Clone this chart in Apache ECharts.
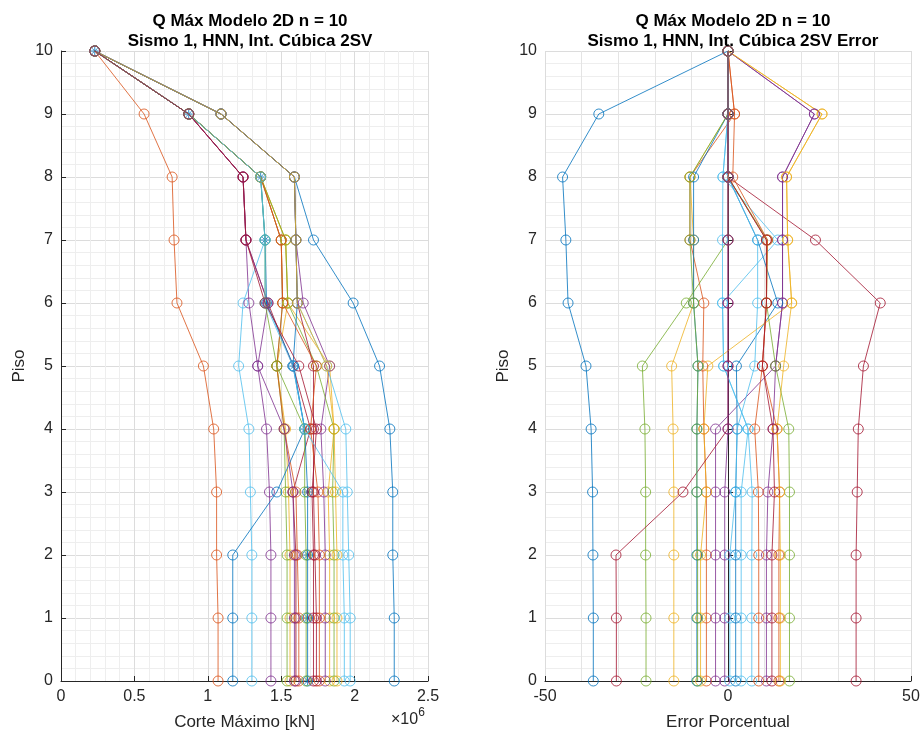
<!DOCTYPE html>
<html>
<head>
<meta charset="utf-8">
<script src="https://cdn.jsdelivr.net/npm/echarts@6/dist/echarts.min.js"></script>
<style>html,body{margin:0;padding:0;background:#fff;}#c{width:923px;height:737px;}</style>
</head>
<body>
<div id="c"></div>
<script>
// Floors (y axis)
const pisos = [0,1,2,3,4,5,6,7,8,9,10];
const yTicks = [0,1,2,3,4,5,6,7,8,9,10];
const xTicksLeft = [0,0.5,1,1.5,2,2.5];      // x 10^6 kN
const xTicksRight = [-50,0,50];
const colores = ['#0072BD','#D95319','#EDB120','#7E2F8E','#77AC30','#4DBEEE','#A2142F'];

// Left panel: Corte Máximo (x 10^6 kN), values per floor 0..10
const corte01 = [2.27,2.27,2.26,2.26,2.24,2.17,1.99,1.72,1.59,1.09,0.23];
const corte02 = [1.07,1.07,1.06,1.06,1.04,0.97,0.79,0.77,0.757,0.566,0.23];
const corte03 = [1.56,1.56,1.56,1.55,1.53,1.47,1.545,1.53,1.36,0.87,0.23];
const corte04 = [1.43,1.43,1.43,1.42,1.40,1.34,1.28,1.26,1.24,0.87,0.23];
const corte05 = [1.54,1.54,1.54,1.53,1.52,1.47,1.51,1.50,1.36,0.87,0.23];
const corte06 = [1.30,1.30,1.30,1.29,1.28,1.21,1.24,1.39,1.36,0.87,0.23];
const corte07 = [1.60,1.60,1.60,1.58,1.70,1.58,1.41,1.26,1.24,0.87,0.23];
const corteRef = [1.68,1.68,1.68,1.68,1.66,1.585,1.40,1.39,1.36,0.87,0.23];
const corte09 = [1.62,1.62,1.61,1.60,1.52,1.47,1.51,1.50,1.36,0.87,0.23];
const corte10 = [1.83,1.83,1.83,1.82,1.86,1.83,1.545,1.53,1.36,0.87,0.23];
const corte11 = [1.80,1.80,1.80,1.79,1.77,1.83,1.65,1.60,1.59,1.09,0.23];
const corte12 = [1.86,1.86,1.86,1.85,1.86,1.74,1.545,1.53,1.36,0.87,0.23];
const corte13 = [1.97,1.97,1.96,1.95,1.94,1.81,1.61,1.60,1.59,1.09,0.23];
const corte14 = [1.74,1.74,1.73,1.72,1.72,1.72,1.61,1.60,1.59,1.09,0.23];
const corte15 = [1.17,1.17,1.17,1.47,1.66,1.58,1.61,1.60,1.59,1.09,0.23];
const corte16 = [1.76,1.76,1.76,1.75,1.70,1.74,1.51,1.50,1.36,0.87,0.23];
const corte17 = [1.88,1.88,1.88,1.87,1.86,1.81,1.61,1.60,1.59,1.09,0.23];
const corte18 = [1.59,1.59,1.59,1.58,1.52,1.34,1.41,1.26,1.24,0.87,0.23];
const corte19 = [1.67,1.67,1.67,1.66,1.66,1.47,1.39,1.39,1.36,0.87,0.23];
const corte20 = [1.93,1.93,1.92,1.92,1.66,1.58,1.39,1.39,1.36,0.87,0.23];
const corte21 = [1.72,1.72,1.72,1.71,1.74,1.62,1.39,1.26,1.24,0.87,0.23];
const corteSeries = [corte01,corte02,corte03,corte04,corte05,corte06,corte07,corteRef,corte09,corte10,
  corte11,corte12,corte13,corte14,corte15,corte16,corte17,corte18,corte19,corte20,corte21];

// Right panel: Error Porcentual (%), values per floor 0..10
const error01 = [-36.8,-36.8,-36.9,-37.0,-37.4,-38.8,-43.7,-44.3,-45.2,-35.3,0];
const error02 = [-5.9,-5.9,-5.9,-5.9,-6.6,-6.9,-6.6,-10.4,-10.4,1.8,0];
const error03 = [-14.8,-14.8,-14.8,-14.8,-15.0,-15.4,-9.4,-9.4,-10.4,0,0];
const error04 = [-3.4,-3.4,-3.4,-3.4,-3.4,13.0,14.9,14.9,14.9,23.6,0];
const error05 = [-22.4,-22.4,-22.5,-22.5,-22.7,-23.4,-11.4,0,0,0,0];
const error06 = [3.6,3.6,3.6,3.6,5.5,-1.2,-1.5,13.6,-1.4,0,0];
const error07 = [35.0,35.0,35.0,35.3,35.6,37.0,41.6,23.9,0,0,0];
const error08 = [2.1,2.1,2.1,2.1,2.5,2.3,13.6,8.1,0,0,0];
const error09 = [13.9,13.9,13.9,14.1,13.4,9.4,10.5,10.5,0,0,0];
const error10 = [-7.5,-7.5,-7.5,-5.9,-6.6,-5.5,17.4,16.3,16.0,25.7,0];
const error11 = [10.5,10.5,10.5,10.9,12.3,13.0,14.9,14.9,14.9,23.6,0];
const error12 = [16.8,16.8,16.8,16.8,16.6,13.0,10.5,10.8,0,0,0];
const error13 = [6.5,6.5,6.5,6.6,5.5,-1.2,-1.5,-1.5,-1.4,0,0];
const error14 = [-30.5,-30.5,-30.6,-12.3,0,0,0,0,0,0,0];
const error15 = [-8.5,-8.5,-8.5,-8.5,-8.5,-8.2,-9.4,-9.4,-9.4,0,0];
const error16 = [8.4,8.4,8.4,8.3,7.3,9.4,10.5,10.8,1.3,1.8,0];
const error17 = [14.3,14.3,14.3,14.1,13.4,15.2,17.4,16.3,16.0,25.7,0];
const error18 = [-0.9,-0.9,-0.9,-0.9,0,0,0,0,0,0,0];
const error19 = [-8.3,-8.3,-8.3,-8.5,-8.5,-8.2,-9.4,-10.4,-10.4,0,0];
const error20 = [0.5,0.5,0.5,2.1,2.5,7.3,8.1,8.1,0,0,0];
const error21 = [12.0,12.0,12.0,12.7,12.3,9.4,10.5,10.5,0,0,0];
const errorSeries = [error01,error02,error03,error04,error05,error06,error07,error08,error09,error10,
  error11,error12,error13,error14,error15,error16,error17,error18,error19,error20,error21];

const FONT = '"Liberation Sans", Arial, sans-serif';
const TXT = '#262626';

function lineSeries(vals, idx, axisIdx){
  const col = colores[idx % colores.length];
  return {
    type:'line', xAxisIndex:axisIdx, yAxisIndex:axisIdx,
    data: vals.map((v,i)=>[v, pisos[i]]),
    symbol:'circle', symbolSize:10, showSymbol:true,
    lineStyle:{color:col, width:1, opacity:0.8},
    itemStyle:{color:'rgba(0,0,0,0)', borderColor:col, borderWidth:1, opacity:0.8},
    emphasis:{disabled:true}, silent:true, animation:false
  };
}

const series = [];
corteSeries.forEach((s,i)=>series.push(lineSeries(s,i,0)));
// star markers of the reference series
series.push({
  type:'scatter', xAxisIndex:0, yAxisIndex:0,
  data: corteRef.map((v,i)=>[v, pisos[i]]),
  symbol:'path://M5,0L5,10M0,5L10,5M1.5,1.5L8.5,8.5M1.5,8.5L8.5,1.5', symbolSize:8,
  itemStyle:{color:'none', borderColor:'#0072BD', borderWidth:1},
  silent:true, animation:false
});
errorSeries.forEach((s,i)=>series.push(lineSeries(s,i,1)));

function yAxisDef(gi){
  return {
    gridIndex:gi, type:'value', min:yTicks[0], max:yTicks[yTicks.length-1], interval:1,
    name:'Piso', nameLocation:'middle', nameGap:33,
    nameTextStyle:{fontFamily:FONT, fontSize:17, color:TXT},
    axisLine:{show:true, lineStyle:{color:'#262626', width:1}},
    axisTick:{show:true, inside:true, length:5, lineStyle:{color:'#262626'}},
    axisLabel:{fontFamily:FONT, fontSize:16, color:TXT, margin:8},
    splitLine:{show:true, lineStyle:{color:'#DCDCDC', width:1}},
    minorTick:{show:false, splitNumber:5},
    minorSplitLine:{show:true, lineStyle:{color:'#EEEEEE', width:1}}
  };
}

const option = {
  backgroundColor:'#fff',
  animation:false,
  title:[
    {text:'Q Máx Modelo 2D n = 10\nSismo 1, HNN, Int. Cúbica 2SV', left:245, top:6, textAlign:'center',
     textStyle:{fontFamily:FONT, fontSize:17, fontWeight:'bold', color:'#000', lineHeight:20}},
    {text:'Q Máx Modelo 2D n = 10\nSismo 1, HNN, Int. Cúbica 2SV Error', left:728, top:6, textAlign:'center',
     textStyle:{fontFamily:FONT, fontSize:17, fontWeight:'bold', color:'#000', lineHeight:20}}
  ],
  grid:[
    {left:61, right:495, top:51, bottom:56, containLabel:false},
    {left:545, right:12, top:51, bottom:56, containLabel:false}
  ],
  xAxis:[
    {gridIndex:0, type:'value', min:xTicksLeft[0], max:xTicksLeft[xTicksLeft.length-1], interval:0.5,
     name:'Corte Máximo [kN]', nameLocation:'middle', nameGap:33,
     nameTextStyle:{fontFamily:FONT, fontSize:17, color:TXT},
     axisLine:{show:true, onZero:false, lineStyle:{color:'#262626', width:1}},
     axisTick:{show:true, inside:true, length:5, lineStyle:{color:'#262626'}},
     axisLabel:{fontFamily:FONT, fontSize:16, color:TXT, margin:8},
     splitLine:{show:true, lineStyle:{color:'#DCDCDC', width:1}},
     minorTick:{show:false, splitNumber:5},
     minorSplitLine:{show:true, lineStyle:{color:'#EEEEEE', width:1}}},
    {gridIndex:1, type:'value', min:xTicksRight[0], max:xTicksRight[xTicksRight.length-1], interval:50,
     name:'Error Porcentual', nameLocation:'middle', nameGap:33,
     nameTextStyle:{fontFamily:FONT, fontSize:17, color:TXT},
     axisLine:{show:true, onZero:false, lineStyle:{color:'#262626', width:1}},
     axisTick:{show:true, inside:true, length:5, lineStyle:{color:'#262626'}},
     axisLabel:{fontFamily:FONT, fontSize:16, color:TXT, margin:8},
     splitLine:{show:true, lineStyle:{color:'#DCDCDC', width:1}},
     minorTick:{show:false, splitNumber:5},
     minorSplitLine:{show:true, lineStyle:{color:'#E4E4E4', width:1}}}
  ],
  yAxis:[yAxisDef(0), yAxisDef(1)],
  graphic:[
    {type:'text', left:391, top:707, silent:true,
     style:{text:'{a|×10}{b|6}', rich:{
       a:{fontFamily:FONT, fontSize:16, fill:TXT, padding:[8,0,0,0]},
       b:{fontFamily:FONT, fontSize:12, fill:TXT, padding:[0,0,6,0]}}}}
  ],
  series: series
};

const chart = echarts.init(document.getElementById('c'), null, {renderer:'canvas'});
chart.setOption(option);
</script>
</body>
</html>
